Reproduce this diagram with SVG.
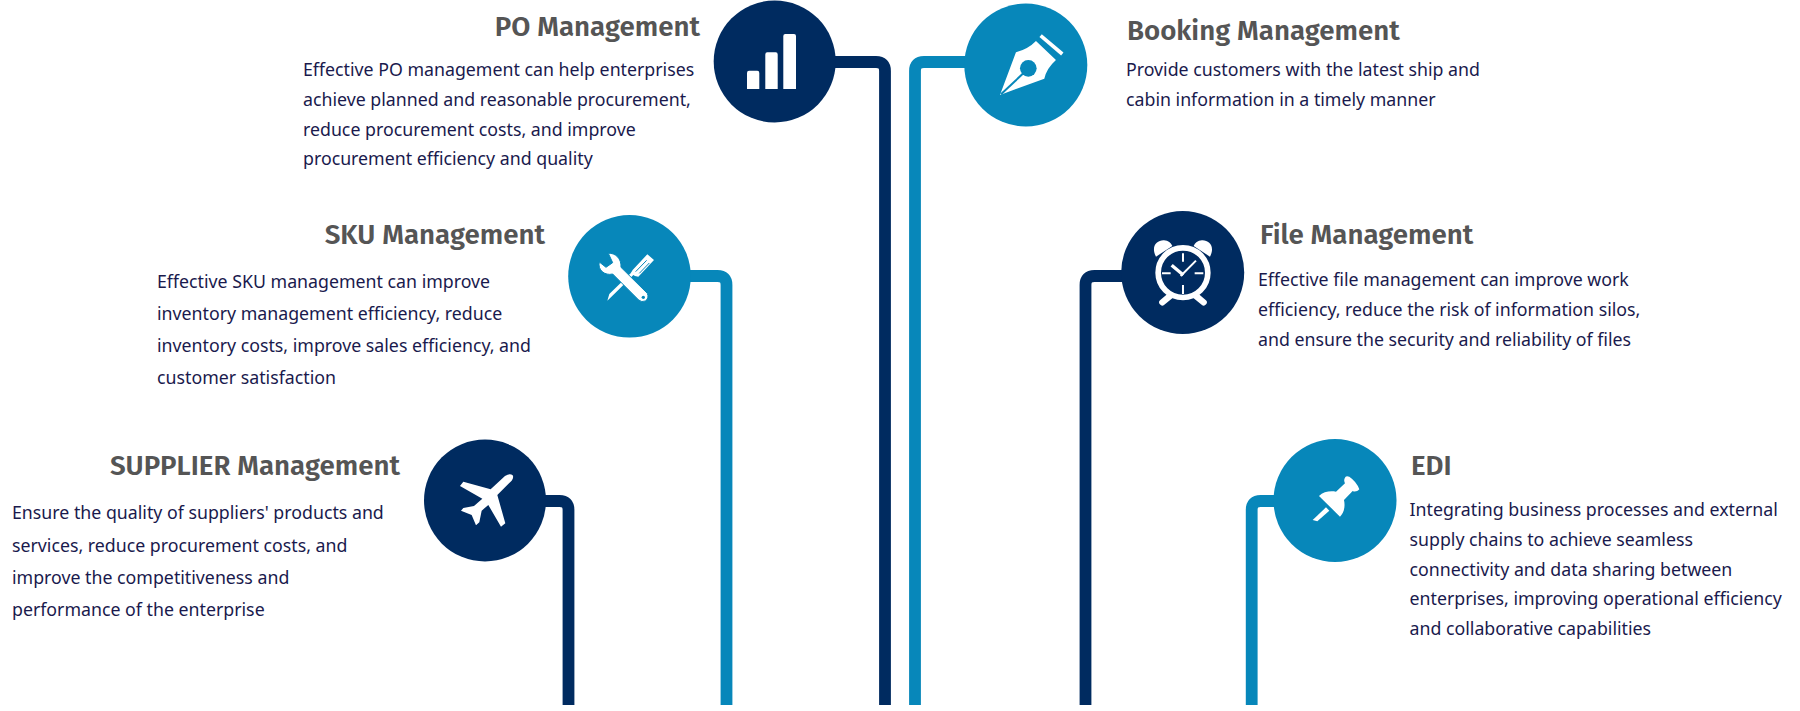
<svg xmlns="http://www.w3.org/2000/svg" width="1800" height="711" viewBox="0 0 1800 711">
<style>
.h{font-family:"Fira Sans","Noto Sans","Liberation Sans",sans-serif;font-weight:600;font-size:27.7px;fill:#555555}
.b{font-family:"Noto Sans","Open Sans","Liberation Sans",sans-serif;font-size:17.75px;fill:#1a1a4d}
.navy{fill:#002b60}.blue{fill:#0787ba}
.ln{fill:none;stroke-width:11.8}
.w{fill:#fff}
</style>
<rect width="1800" height="711" fill="#fff"/>
<g id="connectors">
<path class="ln" stroke="#002b60" d="M830,62H876Q885,62 885,71V705"/>
<path class="ln" stroke="#0787ba" d="M970,62H924Q915,62 915,71V705"/>
<path class="ln" stroke="#0787ba" d="M685,276H717.500Q726.500,276 726.500,285V705"/>
<path class="ln" stroke="#002b60" d="M1125,276H1094.500Q1085.500,276 1085.500,285V705"/>
<path class="ln" stroke="#002b60" d="M540,501H559.500Q568.500,501 568.500,510V705"/>
<path class="ln" stroke="#0787ba" d="M1280,501H1260.700Q1251.700,501 1251.700,510V705"/>
</g>
<g id="po">
<circle class="navy" cx="774.700" cy="61.500" r="61"/>
<path class="w" d="M747,89V73Q747,70.700 749,70.700H757.300Q759.300,70.700 759.300,73V89ZM765.300,89V54.500Q765.300,52.300 767.300,52.300H775.700Q777.700,52.300 777.700,54.500V89ZM783.300,89V36Q783.300,34 785.300,34H794Q796,34 796,36V89Z"/>
<text class="h" x="700" y="35.500" text-anchor="end">PO Management</text>
<text class="b"><tspan x="303" y="76">Effective PO management can help enterprises</tspan><tspan x="303" y="106">achieve planned and reasonable procurement,</tspan><tspan x="303" y="135.500">reduce procurement costs, and improve</tspan><tspan x="303" y="165">procurement efficiency and quality</tspan></text>
</g>
<g id="booking">
<circle class="blue" cx="1025.800" cy="65" r="61.500"/>
<g transform="translate(680 0) scale(.3333)">
<path class="w" d="M960,285L1008,157Q1045,147 1068,123L1128,180Q1100,205 1093,236Z"/>
<circle class="blue" cx="1045" cy="205" r="25"/>
<path d="M963,283L1030,220" stroke="#0787ba" stroke-width="6" fill="none"/>
<path d="M1082,107L1147,162" stroke="#fff" stroke-width="11" fill="none"/>
</g>
<text class="h" x="1127" y="40">Booking Management</text>
<text class="b"><tspan x="1126" y="76">Provide customers with the latest ship and</tspan><tspan x="1126" y="106">cabin information in a timely manner</tspan></text>
</g>
<g id="sku">
<circle class="blue" cx="629.500" cy="276.300" r="61.300"/>
<g transform="translate(540 190) scale(.3333)">
<path class="w" d="M278,240L322,193L342,210L295,260L285,258L280,255L235,300L202,332L208,312L272,250Z"/>
<path d="M287,245L320,211M298,250L328,219" stroke="#0787ba" stroke-width="3" fill="none"/>
<path class="w" stroke="#0787ba" stroke-width="3" d="M205,190C225,188 245,205 243,232L322,310Q328,325 316,333Q305,338 296,330L218,252C195,258 172,240 178,216L198,232L218,218Z"/>
<circle class="blue" cx="310" cy="322" r="5"/>
</g>
<text class="h" x="545" y="244" text-anchor="end">SKU Management</text>
<text class="b"><tspan x="157" y="287.500">Effective SKU management can improve</tspan><tspan x="157" y="319.500">inventory management efficiency, reduce</tspan><tspan x="157" y="351.500">inventory costs, improve sales efficiency, and</tspan><tspan x="157" y="384">customer satisfaction</tspan></text>
</g>
<g id="file">
<circle class="navy" cx="1182.700" cy="272.500" r="61.500"/>
<g transform="translate(1060 190) scale(.3333)">
<circle cx="369" cy="248" r="74.500" fill="none" stroke="#fff" stroke-width="17"/>
<path class="w" d="M288,200C272,170 290,150 312,151C325,152 333,158 337,168ZM450,200C466,170 448,150 426,151C413,152 405,158 401,168Z"/>
<path d="M307,337L330,318M431,337L408,318" stroke="#fff" stroke-width="19" stroke-linecap="round" fill="none"/>
<path d="M369,190V215M369,285V312M306,250H332M404,250H430" stroke="#fff" stroke-width="6" fill="none"/>
<path d="M335,226L370,255" stroke="#fff" stroke-width="10" fill="none"/>
<path d="M362,258L408,212" stroke="#fff" stroke-width="6" fill="none"/>
</g>
<text class="h" x="1260" y="244">File Management</text>
<text class="b"><tspan x="1258" y="285.500">Effective file management can improve work</tspan><tspan x="1258" y="315.500">efficiency, reduce the risk of information silos,</tspan><tspan x="1258" y="345.500">and ensure the security and reliability of files</tspan></text>
</g>
<g id="supplier">
<circle class="navy" cx="485" cy="500.500" r="61"/>
<g transform="translate(400 420) scale(.3333)">
<path class="w" d="M338,166Q330,158 315,168L272,208L190,185L180,198L247,236L222,258L190,264L183,272L215,285L228,316L238,307L245,272L265,255L303,320L316,310L292,225L335,182Q342,172 338,166Z"/>
</g>
<text class="h" x="400" y="475" text-anchor="end">SUPPLIER Management</text>
<text class="b"><tspan x="12" y="519">Ensure the quality of suppliers' products and</tspan><tspan x="12" y="551.500">services, reduce procurement costs, and</tspan><tspan x="12" y="584">improve the competitiveness and</tspan><tspan x="12" y="616">performance of the enterprise</tspan></text>
</g>
<g id="edi">
<circle class="blue" cx="1335" cy="500.500" r="61.500"/>
<g transform="translate(1230 420) scale(.3333)">
<path class="w" d="M347,170C340,180 343,185 345,190L318,215C300,212 280,215 267,228L330,290C343,277 346,258 342,240L368,213C375,217 382,214 388,208Q380,185 358,170Q350,167 347,170Z"/>
<path class="w" d="M288,262L298,272L262,304L248,300Z"/>
</g>
<text class="h" x="1411" y="474.500">EDI</text>
<text class="b"><tspan x="1409.500" y="516">Integrating business processes and external</tspan><tspan x="1409.500" y="546">supply chains to achieve seamless</tspan><tspan x="1409.500" y="575.500">connectivity and data sharing between</tspan><tspan x="1409.500" y="605">enterprises, improving operational efficiency</tspan><tspan x="1409.500" y="634.500">and collaborative capabilities</tspan></text>
</g>
</svg>
